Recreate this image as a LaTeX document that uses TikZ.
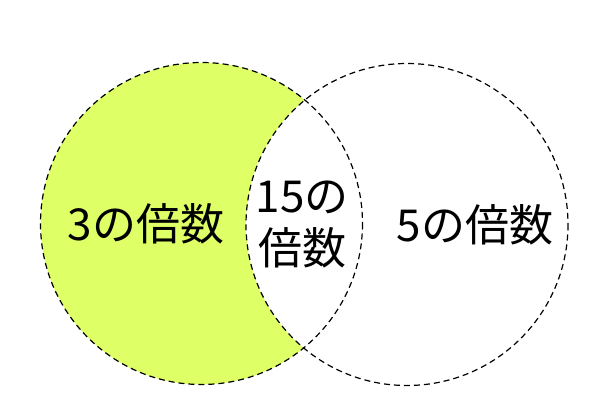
\documentclass[tikz,border=0pt]{standalone}
\usepackage{fontspec}
\newfontfamily\jpfont{Noto Sans CJK JP}
\definecolor{crescent}{RGB}{223,255,102}
\begin{document}
\begin{tikzpicture}[x=1pt,y=-1pt,
  ring/.style={draw=black,line width=1.2pt,dash pattern=on 6pt off 4pt},
  lbl/.style={font=\jpfont\fontsize{44}{52}\selectfont,inner sep=0pt,align=center}]
\useasboundingbox (0,0) rectangle (604,407);
\coordinate (cl) at (201.5,223.5);
\coordinate (cr) at (407,224.5);
\fill[crescent] (cl) circle[radius=161];
\fill[white] (cr) circle[radius=161];
\draw[ring] (cl) circle[radius=161];
\draw[ring] (cr) circle[radius=161];
\node[lbl] (three) at (146,224) {3の倍数};
\node[lbl] (fifteen) at (302,225) {15の\\倍数};
\node[lbl] (five) at (475,225) {5の倍数};
\end{tikzpicture}
\end{document}
